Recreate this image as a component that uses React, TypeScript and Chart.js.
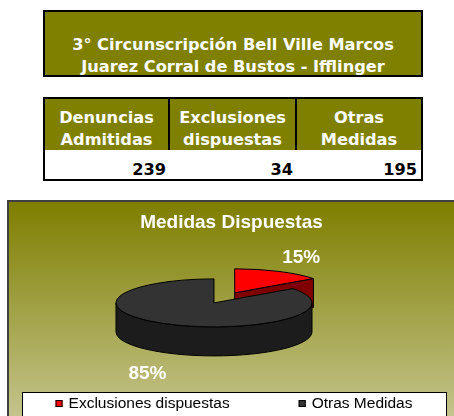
import React, { useEffect, useRef } from "react";
import { Chart, registerables } from "chart.js";

Chart.register(...registerables);

// ---- data ----
const reportTitle = ["3° Circunscripción Bell Ville Marcos", "Juarez Corral de Bustos - Ifflinger"];
const tableHeaders = [["Denuncias", "Admitidas"], ["Exclusiones", "dispuestas"], ["Otras", "Medidas"]];
const tableValues = [239, 34, 195];
const chartTitle = "Medidas Dispuestas";
const pieLabels = ["Exclusiones dispuestas", "Otras Medidas"];
const pieValues = [34, 195];

// ---- styles ----
const OLIVE = "#808000";
const pieColors = ["#ff0000", "#333333"];
const pieSideColors = ["#800000", "#1c1c1c"];
const colWidths = [125, 127, 124];

const pie3d = {
  id: "pie3d",
  beforeDatasetDraw(chart: any, args: any, opts: any) {
    const meta = args.meta;
    const ctx = chart.ctx;
    const k = opts.ratio;
    const depth = opts.depth;
    const explode = opts.explode || [];
    const items = meta.data.map((el: any, i: number) => {
      const mid = (el.startAngle + el.endAngle) / 2;
      const ex = explode[i] || 0;
      return {
        el,
        i,
        mid,
        sx: el.x + opts.shiftX + Math.cos(mid) * ex,
        sy: el.y + Math.sin(mid) * ex * k,
        rx: el.outerRadius,
        ry: el.outerRadius * k,
      };
    });
    chart.$pie3d = items;
    const order = [...items].sort((a, b) => a.sy - b.sy);
    ctx.save();
    ctx.lineWidth = 1;
    ctx.strokeStyle = "#000";
    ctx.lineJoin = "round";
    for (const it of order) {
      const { el, sx, sy, rx, ry } = it;
      const a0 = el.startAngle;
      const a1 = el.endAngle;
      ctx.fillStyle = opts.sideColors[it.i];
      // outer wall (front half only)
      for (let n = -1; n <= 1; n++) {
        const lo = Math.max(a0, n * 2 * Math.PI);
        const hi = Math.min(a1, n * 2 * Math.PI + Math.PI);
        if (hi - lo > 1e-6) {
          ctx.beginPath();
          ctx.ellipse(sx, sy, rx, ry, 0, lo, hi, false);
          ctx.lineTo(sx + rx * Math.cos(hi), sy + ry * Math.sin(hi) + depth);
          ctx.ellipse(sx, sy + depth, rx, ry, 0, hi, lo, true);
          ctx.closePath();
          ctx.fill();
          ctx.stroke();
        }
      }
      // radial cut faces that face the viewer
      const faces: number[] = [];
      if (Math.cos(a0) < -1e-6) faces.push(a0);
      if (Math.cos(a1) > 1e-6) faces.push(a1);
      for (const a of faces) {
        const px = sx + rx * Math.cos(a);
        const py = sy + ry * Math.sin(a);
        ctx.beginPath();
        ctx.moveTo(sx, sy);
        ctx.lineTo(px, py);
        ctx.lineTo(px, py + depth);
        ctx.lineTo(sx, sy + depth);
        ctx.closePath();
        ctx.fill();
        ctx.stroke();
      }
      // top face drawn by the library's arc element, flattened
      ctx.save();
      ctx.translate(sx, sy);
      ctx.scale(1, k);
      ctx.translate(-el.x, -el.y);
      el.draw(ctx);
      ctx.restore();
      ctx.beginPath();
      ctx.moveTo(sx, sy);
      ctx.ellipse(sx, sy, rx, ry, 0, a0, a1, false);
      ctx.closePath();
      ctx.stroke();
    }
    ctx.restore();
    return false;
  },
  afterDraw(chart: any, _args: any, opts: any) {
    const ctx = chart.ctx;
    const items = chart.$pie3d || [];
    const data = chart.data.datasets[0].data as number[];
    const total = data.reduce((s: number, v: number) => s + v, 0);
    ctx.save();
    // percentage labels
    ctx.fillStyle = "#fff";
    ctx.font = "bold 19px 'Liberation Sans', Arial, sans-serif";
    ctx.textAlign = "center";
    ctx.textBaseline = "middle";
    for (const it of items) {
      const c = Math.cos(it.mid);
      const s = Math.sin(it.mid);
      const x = it.sx + c * (it.rx + opts.labelGapX);
      const y = it.sy + s * (it.ry + opts.labelGapY) + (s > 0 ? opts.depth : 0) + opts.labelDy;
      ctx.fillText(Math.round((data[it.i] / total) * 100) + "%", x, y);
    }
    // legend box
    const lb = opts.legendBox;
    ctx.fillStyle = "#fff";
    ctx.fillRect(lb.left, lb.top, lb.right - lb.left, lb.height);
    ctx.strokeStyle = "#000";
    ctx.lineWidth = 1;
    ctx.strokeRect(lb.left + 0.5, lb.top + 0.5, lb.right - lb.left, lb.height);
    ctx.font = "15.5px 'Liberation Sans', Arial, sans-serif";
    ctx.textAlign = "left";
    ctx.textBaseline = "alphabetic";
    const labels = chart.data.labels as string[];
    const colors = chart.data.datasets[0].backgroundColor as string[];
    const sq = 7;
    const gap = 6;
    const widths = labels.map((l) => sq + gap + ctx.measureText(l).width);
    const totalW = widths.reduce((a, b) => a + b, 0) + opts.legendItemGap * (labels.length - 1);
    let x = (lb.left + lb.right) / 2 - totalW / 2;
    labels.forEach((l, i) => {
      ctx.fillStyle = colors[i];
      ctx.fillRect(x, lb.baseline - 8, sq, sq);
      ctx.strokeStyle = "#000";
      ctx.strokeRect(x + 0.5, lb.baseline - 8 + 0.5, sq - 1, sq - 1);
      ctx.fillStyle = "#000";
      ctx.fillText(l, x + sq + gap, lb.baseline);
      x += widths[i] + opts.legendItemGap;
    });
    ctx.restore();
  },
};

function PieChart() {
  const ref = useRef<HTMLCanvasElement>(null);
  useEffect(() => {
    if (!ref.current) return;
    const chart = new Chart(ref.current, {
      type: "pie",
      data: {
        labels: pieLabels,
        datasets: [
          {
            data: pieValues,
            backgroundColor: pieColors,
            borderWidth: 0,
            radius: 98,
            offset: 0,
            clip: false,
          } as any,
        ],
      },
      options: {
        responsive: false,
        animation: false,
        devicePixelRatio: 1,
        layout: { padding: { top: 0, left: 0, right: 0, bottom: 44 } },
        plugins: {
          legend: { display: false },
          tooltip: { enabled: false },
          title: {
            display: true,
            text: chartTitle,
            color: "#ffffff",
            font: { family: "'Liberation Sans', Arial, sans-serif", size: 19, weight: "bold" },
            padding: { top: 9, bottom: 0 },
          },
          pie3d: {
            ratio: 24 / 98,
            depth: 29,
            shiftX: -17.5,
            explode: [46, 0],
            sideColors: pieSideColors,
            labelGapX: 50,
            labelGapY: 19,
            labelDy: 3,
            legendBox: { left: 13, top: 190, right: 437, height: 40, baseline: 206 },
            legendItemGap: 69,
          },
        } as any,
      },
      plugins: [pie3d as any],
    });
    return () => chart.destroy();
  }, []);
  return <canvas ref={ref} width={445} height={214} style={{ display: "block" }} />;
}

export default function App() {
  useEffect(() => {
    document.body.style.overflow = "hidden";
  }, []);
  const cellFont = "bold 16.2px 'DejaVu Sans', Verdana, sans-serif";
  return (
    <div>
      <div
        style={{
          position: "absolute",
          left: 43,
          top: 10,
          width: 380,
          height: 67,
          boxSizing: "border-box",
          border: "2px solid #000",
          background: OLIVE,
          color: "#fff",
          font: cellFont,
          lineHeight: "22px",
          textAlign: "center",
          paddingTop: 21.5,
          whiteSpace: "nowrap",
        }}
      >
        {reportTitle.map((l) => (
          <div key={l}>{l}</div>
        ))}
      </div>
      <div
        style={{
          position: "absolute",
          left: 43,
          top: 97,
          width: 380,
          height: 84,
          boxSizing: "border-box",
          border: "2px solid #000",
          font: cellFont,
          lineHeight: "22px",
          whiteSpace: "nowrap",
        }}
      >
        <div style={{ display: "flex", height: 51, background: OLIVE, color: "#fff" }}>
          {tableHeaders.map((h, i) => (
            <div
              key={i}
              style={{
                width: colWidths[i],
                boxSizing: "border-box",
                borderRight: i < tableHeaders.length - 1 ? "2px solid #000" : undefined,
                textAlign: "center",
                paddingTop: 8.4,
              }}
            >
              {h.map((l) => (
                <div key={l}>{l}</div>
              ))}
            </div>
          ))}
        </div>
        <div style={{ display: "flex", height: 29, background: "#fff", color: "#000" }}>
          {tableValues.map((v, i) => (
            <div
              key={i}
              style={{
                width: colWidths[i],
                boxSizing: "border-box",
                textAlign: "right",
                paddingRight: 4,
                paddingTop: 9.4,
              }}
            >
              {v}
            </div>
          ))}
        </div>
      </div>
      <div
        style={{
          position: "absolute",
          left: 7,
          top: 200,
          width: 447,
          height: 216,
          boxSizing: "border-box",
          borderLeft: "2px solid #404040",
          borderTop: "2px solid #404040",
          background: "linear-gradient(to bottom, #7e7e00 0%, #c4c48c 100%)",
          overflow: "hidden",
        }}
      >
        <PieChart />
      </div>
    </div>
  );
}
